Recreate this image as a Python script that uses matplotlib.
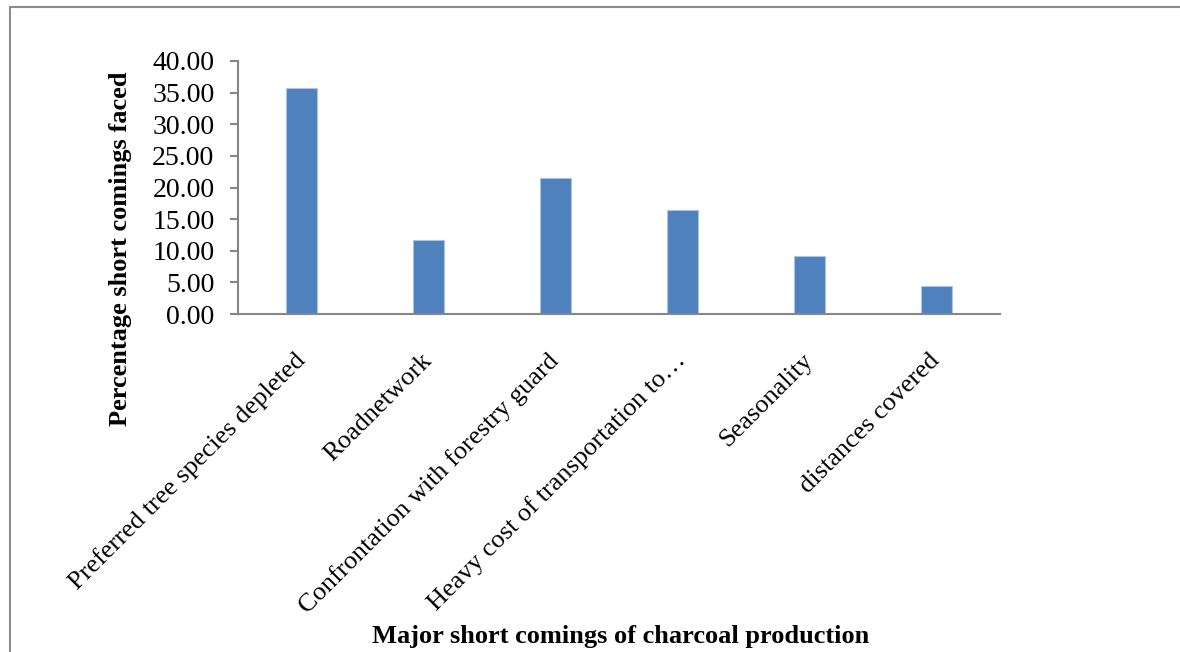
import matplotlib
matplotlib.use("Agg")
import matplotlib.pyplot as plt
from matplotlib.patches import Rectangle
import numpy as np

plt.rcParams['font.family'] = ['Liberation Serif', 'DejaVu Serif']

categories = ["Preferred tree species depleted", "Roadnetwork",
              "Confrontation with forestry guard", "Heavy cost of transportation to\u2026",
              "Seasonality", "distances covered"]
values = [35.7, 11.7, 21.5, 16.4, 9.2, 4.5]
yticks = [0, 5, 10, 15, 20, 25, 30, 35, 40]

fig = plt.figure(figsize=(11.8, 6.52), dpi=100)
# chart area border (runs off the right and bottom edge)
fig.patches.append(Rectangle((10 / 1180, -0.1), 1.2, 1 - 7 / 652 + 0.1,
                             transform=fig.transFigure, fill=False,
                             edgecolor='#8c8c8c', linewidth=1.5))

ax = fig.add_axes([238 / 1180, 1 - 314 / 652, (1000 - 238) / 1180, (314 - 61) / 652])
x = np.arange(len(categories))
ax.bar(x, values, width=0.25, color='#4f81bd', edgecolor='#a9c4e6', linewidth=0.8)

ax.set_xlim(-0.5, len(categories) - 0.5)
ax.set_ylim(0, 40)
ax.set_yticks(yticks)
ax.set_yticklabels([f"{v:.2f}" for v in yticks], fontsize=20)
ax.set_xticks(x)
ax.set_xticklabels(categories, fontsize=19, rotation=45, ha='right', va='center',
                   rotation_mode='anchor')
ax.tick_params(axis='x', length=0, pad=31)
ax.tick_params(axis='y', length=6, width=1.5, color='#868686', pad=11)

for side in ['top', 'right']:
    ax.spines[side].set_visible(False)
for side in ['left', 'bottom']:
    ax.spines[side].set_color('#868686')
    ax.spines[side].set_linewidth(1.5)

fig.text(120 / 1180, 1 - 249 / 652, "Percentage short comings faced", rotation=90,
         ha='center', va='center', fontsize=19, fontweight='bold')
fig.text(621 / 1180, 1 - 636 / 652, "Major short comings of charcoal production",
         ha='center', va='center', fontsize=19, fontweight='bold')

fig.savefig("out.png", dpi=100)
